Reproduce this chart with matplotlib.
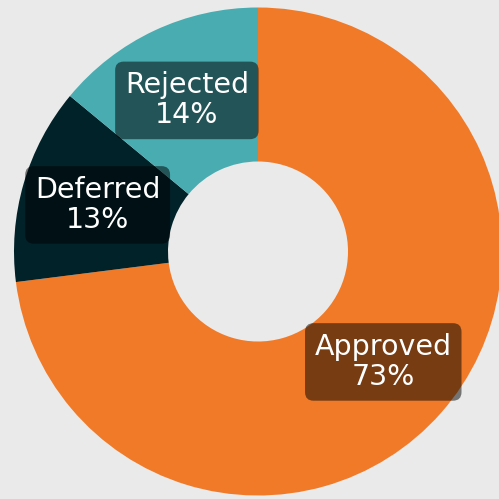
import matplotlib
matplotlib.use("Agg")
import matplotlib.pyplot as plt
import numpy as np

labels = ["Approved", "Deferred", "Rejected"]
values = [73, 13, 14]
colors = ["#F17A28", "#02222A", "#48ACB1"]

BG = "#EAEAEA"
R_OUT, R_IN = 1.0, 90 / 244

fig = plt.figure(figsize=(4.99, 4.99), dpi=100, facecolor=BG)
ax = fig.add_axes([0, 0, 1, 1])
ax.set_facecolor(BG)

wedges, _ = ax.pie(values, colors=colors, startangle=90, counterclock=False,
                   radius=R_OUT, wedgeprops=dict(width=R_OUT - R_IN, linewidth=0))

total = sum(values)
r_lab = (R_OUT + R_IN) / 2
for w, lab, v in zip(wedges, labels, values):
    ang = np.deg2rad((w.theta1 + w.theta2) / 2)
    x, y = r_lab * np.cos(ang), r_lab * np.sin(ang)
    ax.text(x, y, f"{lab}\n{v / total * 100:.0f}%", ha="center", va="center",
            fontsize=20.5, color="white", linespacing=1.1, family="DejaVu Sans",
            bbox=dict(boxstyle="round,pad=0.34,rounding_size=0.3",
                      facecolor="black", alpha=0.5, linewidth=0))

ax.set_aspect("auto")
ax.set_xlim(-258 / 244, 241 / 244)
ax.set_ylim(-247.5 / 244, 251.5 / 244)
ax.axis("off")

fig.savefig("out.png", dpi=100, facecolor=BG)
